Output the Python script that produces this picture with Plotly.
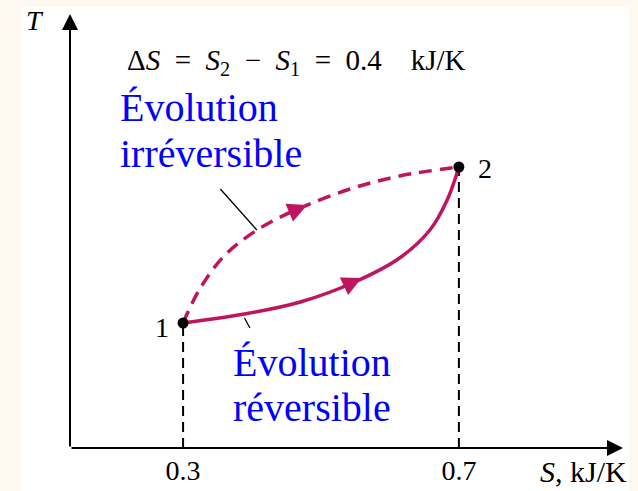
import plotly.graph_objects as go

# Entropy axis (kJ/K) and an arbitrary temperature scale
S_rev = [0.300, 0.397, 0.470, 0.549, 0.614, 0.658, 0.683, 0.700]
T_rev = [1.25, 1.35, 1.46, 1.66, 1.90, 2.18, 2.48, 2.81]

S_irr = [0.300, 0.325, 0.361, 0.412, 0.470, 0.542, 0.614, 0.700]
T_irr = [1.25, 1.60, 1.93, 2.20, 2.40, 2.59, 2.72, 2.81]

state_S = [0.3, 0.7]
state_T = [1.25, 2.81]
state_names = ["1", "2"]

tick_vals = [0.3, 0.7]
tick_text = ["0.3", "0.7"]

# direction arrows along each path: (tail S, tail T, head S, head T)
rev_arrow = [0.528, 1.60, 0.559, 1.70]
irr_arrow = [0.446, 2.33, 0.480, 2.43]

# leader lines from the labels to the paths
irr_leader_S = [0.354, 0.407]
irr_leader_T = [2.59, 2.18]
rev_leader_S = [0.389, 0.397]
rev_leader_T = [1.30, 1.20]

S_range = [0.136, 0.938]
T_range = [0.0, 4.34]

SERIF = "Liberation Serif, Times New Roman, serif"
PATH = "#C0155E"
CREAM = "#FEF9F0"
SP = "\u2002"

fig = go.Figure()

# projection of each state onto the S axis
for s, t in zip(state_S, state_T):
    fig.add_trace(go.Scatter(x=[s, s], y=[0, t], mode="lines",
                             line=dict(color="black", width=2, dash="10px,6px"),
                             hoverinfo="skip"))

fig.add_trace(go.Scatter(x=S_irr, y=T_irr, mode="lines",
                         line=dict(color=PATH, width=3.5, dash="13px,8px", shape="spline"),
                         name="irréversible"))
fig.add_trace(go.Scatter(x=S_rev, y=T_rev, mode="lines",
                         line=dict(color=PATH, width=3.5, shape="spline"),
                         name="réversible"))

fig.add_trace(go.Scatter(x=irr_leader_S, y=irr_leader_T, mode="lines",
                         line=dict(color="black", width=1.3), hoverinfo="skip"))
fig.add_trace(go.Scatter(x=rev_leader_S, y=rev_leader_T, mode="lines",
                         line=dict(color="black", width=1.3), hoverinfo="skip"))

fig.add_trace(go.Scatter(x=state_S, y=state_T, mode="markers",
                         marker=dict(color="black", size=11)))

annotations = []

# axes drawn as arrows
annotations.append(dict(x=S_range[1], y=0, ax=S_range[0], ay=0, xref="x", yref="y",
                        axref="x", ayref="y", text="", showarrow=True,
                        arrowhead=2, arrowsize=1.6, arrowwidth=2, arrowcolor="black"))
annotations.append(dict(x=S_range[0], y=T_range[1], ax=S_range[0], ay=0, xref="x", yref="y",
                        axref="x", ayref="y", text="", showarrow=True,
                        arrowhead=2, arrowsize=1.6, arrowwidth=2, arrowcolor="black"))

# path direction arrows
for a in (rev_arrow, irr_arrow):
    annotations.append(dict(x=a[2], y=a[3], ax=a[0], ay=a[1], xref="x", yref="y",
                            axref="x", ayref="y", text="", showarrow=True,
                            arrowhead=2, arrowsize=1.3, arrowwidth=3, arrowcolor=PATH))


def label(text, x, y, size, color="black", xanchor="center", xref="paper", yref="paper",
          xshift=0, yshift=0):
    return dict(x=x, y=y, xref=xref, yref=yref, text=text, showarrow=False,
                xanchor=xanchor, yanchor="middle", xshift=xshift, yshift=yshift,
                font=dict(family=SERIF, size=size, color=color))


# state labels
annotations.append(label(state_names[0], state_S[0], state_T[0], 28, xref="x", yref="y",
                         xshift=-21, yshift=-4))
annotations.append(label(state_names[1], state_S[1], state_T[1], 28, xref="x", yref="y",
                         xshift=26, yshift=-1))

# axis names
annotations.append(label("<i>T</i>", -0.063, 0.984, 28))
annotations.append(label("<i>S</i>, kJ/K", 1.011, -0.055, 30, xanchor="right"))

# entropy change
eq = ("Δ<i>S</i>" + SP + "=" + SP + "<i>S</i><sub>2</sub>" + SP + "−" + SP +
      "<i>S</i><sub>1</sub>" + SP + "=" + SP + "0.4" + SP + SP + "kJ/K")
annotations.append(label(eq, 0.41, 0.889, 29))

# process labels
blue = "#0000FF"
for txt, px, py in [("Évolution", 0.0868, 0.785), ("irréversible", 0.0868, 0.678),
                    ("Évolution", 0.2915, 0.197), ("réversible", 0.2915, 0.093)]:
    annotations.append(label(txt, px, py, 40, color=blue, xanchor="left"))

fig.update_layout(
    width=638, height=491,
    margin=dict(l=70, r=15, t=14, b=43, autoexpand=False),
    paper_bgcolor=CREAM, plot_bgcolor="white",
    showlegend=False,
    annotations=annotations,
    shapes=[dict(type="rect", xref="paper", yref="paper", x0=-0.0868, x1=1.0108,
                 y0=-0.12, y1=1.016, fillcolor="white", line=dict(width=0), layer="below")],
    xaxis=dict(range=S_range, showgrid=False, zeroline=False, showline=False,
               tickvals=tick_vals, ticktext=tick_text, ticks="", ticklabelstandoff=3,
               tickfont=dict(family=SERIF, size=28, color="black")),
    yaxis=dict(range=T_range, showgrid=False, zeroline=False, showline=False,
               showticklabels=False, ticks=""),
)

fig.write_html("out.html")
